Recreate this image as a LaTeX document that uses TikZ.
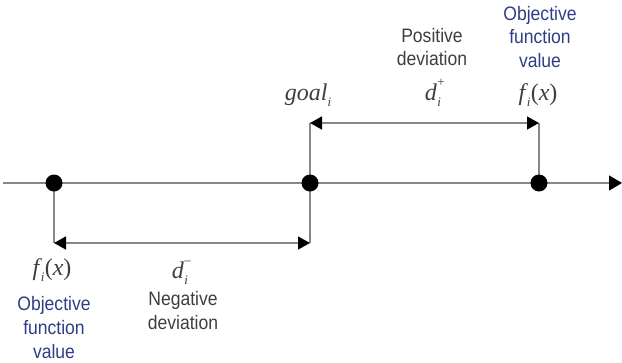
\documentclass[tikz,border=0pt]{standalone}
\usepackage{fontspec}
\usetikzlibrary{arrows.meta}
\setmainfont{Liberation Serif}
\newfontfamily\lblfont[FakeStretch=0.9]{Liberation Sans}
\definecolor{lblblue}{RGB}{45,62,132}
\definecolor{lblgray}{RGB}{62,62,62}
\definecolor{linegray}{RGB}{135,135,135}
\newcommand{\mysub}[1]{\raisebox{-0.28em}{\fontsize{13}{13}\selectfont\itshape #1}}
\newcommand{\mysupsub}[2]{\rlap{\raisebox{0.55em}{\fontsize{13}{13}\selectfont #1}}\raisebox{-0.28em}{\fontsize{13}{13}\selectfont\itshape #2}\hspace{0.25em}}
\newcommand{\fix}{\textit{f}\kern-0.05em\mysub{i}\kern0.02em(\textit{x})}
\begin{document}
\begin{tikzpicture}[x=1pt,y=-1pt,
  ln/.style={draw=linegray,line width=1.3pt},
  dot/.style={circle,fill=black,inner sep=0pt,minimum size=17pt},
  mathlbl/.style={anchor=base,inner sep=0pt,text=lblgray,font=\fontsize{24}{24}\selectfont},
  txtlbl/.style={anchor=base,inner sep=0pt,text=lblgray,font=\lblfont\fontsize{19.5}{19.5}\selectfont},
  bluelbl/.style={txtlbl,text=lblblue}]
\useasboundingbox (0,0) rectangle (622,362);
\coordinate (s) at (3,183);
\coordinate (e) at (622,183);
\coordinate (p1) at (54,183);
\coordinate (p2) at (310,183);
\coordinate (p3) at (539,183);
\coordinate (b1) at (54,243);
\coordinate (b2) at (310,243);
\coordinate (t2) at (310,123);
\coordinate (t3) at (539,123);
\draw[ln,-{Triangle[length=13pt,width=15pt,color=black]}] (s) -- (e);
\draw[ln] (p1) -- (b1);
\draw[ln] (t2) -- (b2);
\draw[ln] (t3) -- (p3);
\draw[ln,{Triangle[length=12pt,width=13pt,color=black]}-{Triangle[length=12pt,width=13pt,color=black]}] (b1) -- (b2);
\draw[ln,{Triangle[length=12pt,width=13pt,color=black]}-{Triangle[length=12pt,width=13pt,color=black]}] (t2) -- (t3);
\node[dot] (d1) at (p1) {};
\node[dot] (d2) at (p2) {};
\node[dot] (d3) at (p3) {};
% upper labels
\node[mathlbl] (goal) at (308,100) {\textit{goal}\mysub{i}};
\node[mathlbl] (dplus) at (433,100) {\textit{d}\kern0.02em\mysupsub{+}{i}};
\node[txtlbl] (pos1) at (432,42) {Positive};
\node[txtlbl] (pos2) at (432,65) {deviation};
\node[mathlbl] (fr) at (538,100) {\fix};
\node[bluelbl] (or1) at (540,20) {Objective};
\node[bluelbl] (or2) at (540,43) {function};
\node[bluelbl] (or3) at (540,67) {value};
% lower labels
\node[mathlbl] (fl) at (52,275) {\fix};
\node[bluelbl] (ol1) at (54,310) {Objective};
\node[bluelbl] (ol2) at (54,334) {function};
\node[bluelbl] (ol3) at (54,358) {value};
\node[mathlbl] (dminus) at (180,278) {\textit{d}\kern0.02em\mysupsub{\textendash}{i}};
\node[txtlbl] (neg1) at (183,305) {Negative};
\node[txtlbl] (neg2) at (183,329) {deviation};
\end{tikzpicture}
\end{document}
